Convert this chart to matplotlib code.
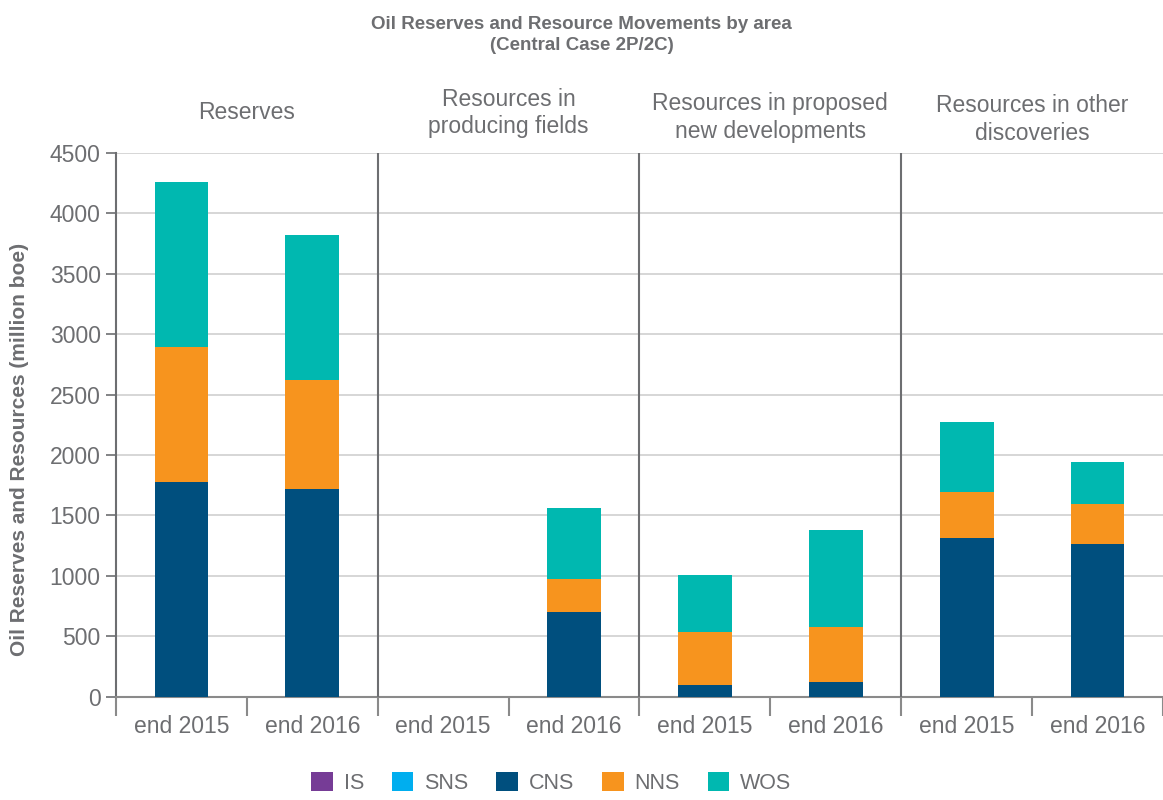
import numpy as np
import matplotlib
matplotlib.use("Agg")
import matplotlib.pyplot as plt
from matplotlib.patches import Patch

plt.rcParams["font.family"] = ["Liberation Sans", "DejaVu Sans"]

groups = ["Reserves", "Resources in\nproducing fields",
          "Resources in proposed\nnew developments", "Resources in other\ndiscoveries"]
periods = ["end 2015", "end 2016"]
series = ["IS", "SNS", "CNS", "NNS", "WOS"]
colors = ["#763c96", "#00aeef", "#004f7e", "#f7941e", "#00b8b0"]

# one value per bar: (group, period) in order
IS = [0, 0, 0, 0, 0, 0, 0, 0]
SNS = [0, 0, 0, 0, 0, 0, 0, 0]
CNS = [1780, 1720, 0, 700, 100, 125, 1315, 1265]
NNS = [1115, 900, 0, 275, 440, 455, 380, 330]
WOS = [1365, 1200, 0, 590, 470, 800, 580, 345]

values = [IS, SNS, CNS, NNS, WOS]
grey = "#6d6e71"

fig = plt.figure(figsize=(11.63, 8.0), dpi=100)
ax = fig.add_axes([0.0997, 0.129, 0.9003, 0.68])

x = np.arange(len(CNS))
bottom = np.zeros(len(x))
for name, vals, c in zip(series, values, colors):
    ax.bar(x, vals, width=0.41, bottom=bottom, color=c, zorder=3, label=name)
    bottom += np.array(vals)

ax.set_xlim(-0.5, len(x) - 0.5)
ax.set_ylim(0, 4500)
ax.set_yticks(np.arange(0, 4501, 500))
ax.yaxis.grid(True, color="#cfcfcf", linewidth=1.2, zorder=0)
ax.set_axisbelow(True)

for s in ["top", "right"]:
    ax.spines[s].set_visible(False)
ax.spines["left"].set_color(grey)
ax.spines["left"].set_linewidth(1.5)
ax.spines["bottom"].set_color("#8a8a8a")
ax.spines["bottom"].set_linewidth(1.5)

# group separators
for b in [1.5, 3.5, 5.5]:
    ax.axvline(b, color=grey, linewidth=1.5, zorder=4)

ax.set_xticks(x)
ax.set_xticklabels(periods * len(groups), fontsize=16.5, color=grey)
ax.tick_params(axis="x", length=0, pad=13)
ax.set_xticks(np.arange(-0.5, len(x), 1.0), minor=True)
ax.tick_params(axis="x", which="minor", length=14, width=1.5, color="#8a8a8a")
ax.tick_params(axis="y", labelsize=16.5, labelcolor=grey, length=7, width=1.2,
               color=grey, pad=4)

ax.set_ylabel("Oil Reserves and Resources (million boe)", fontsize=15,
              fontweight="bold", color=grey)
ax.yaxis.set_label_coords(-0.083, 0.455)

label_y = [4830, 4830, 4790, 4775]
for i, g in enumerate(groups):
    ax.text(2 * i + 0.5, label_y[i], g, ha="center", va="center", fontsize=16.5,
            color=grey, linespacing=1.25)

fig.text(0.5, 0.98, "Oil Reserves and Resource Movements by area\n(Central Case 2P/2C)",
         ha="center", va="top", fontsize=13.5, fontweight="bold", color=grey,
         linespacing=1.3)

handles = [Patch(facecolor=c, label=s) for s, c in zip(series, colors)]
leg = fig.legend(handles=handles, loc="center", bbox_to_anchor=(0.474, 0.021),
                 ncol=5, frameon=False, fontsize=15.5, handlelength=1.0,
                 handleheight=1.0, columnspacing=1.3, handletextpad=0.5)
for t in leg.get_texts():
    t.set_color(grey)

fig.savefig("out.png", dpi=100)
